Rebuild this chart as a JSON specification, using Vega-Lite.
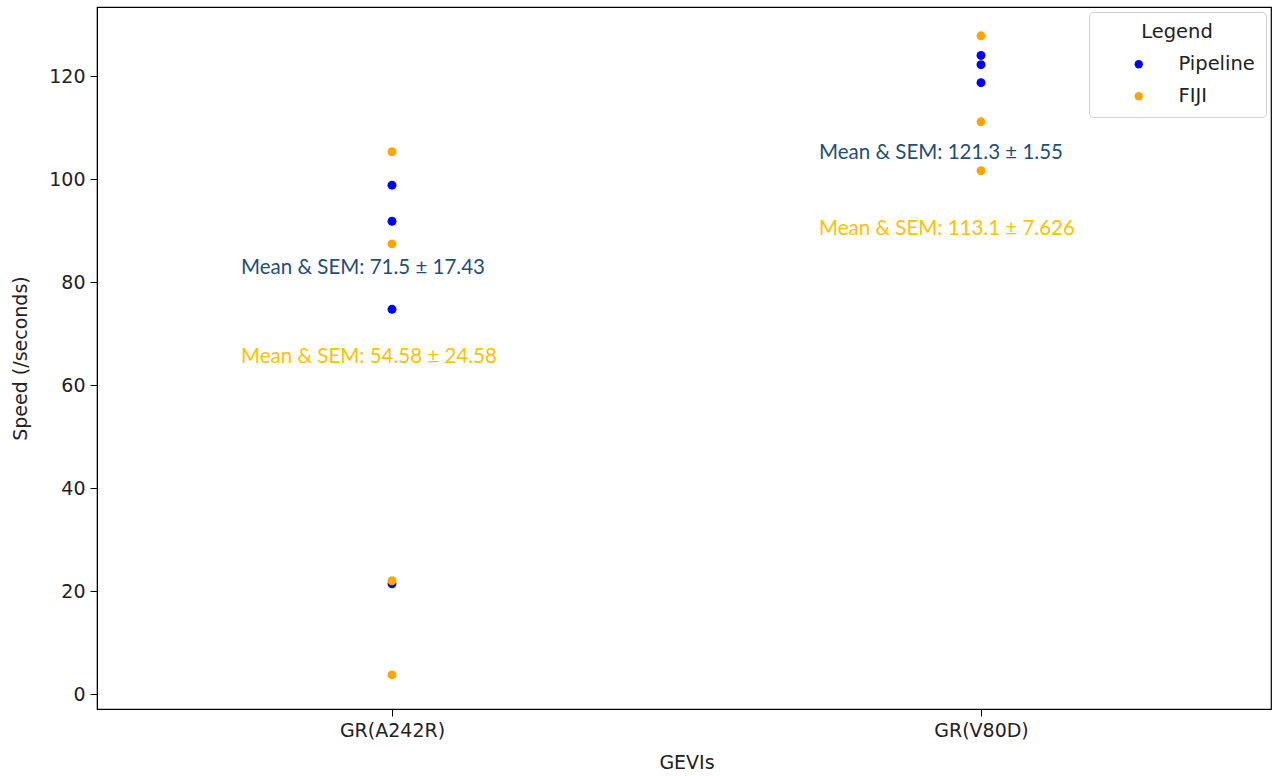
{
  "$schema": "https://vega.github.io/schema/vega-lite/v6.json",
  "width": 1174,
  "height": 702,
  "autosize": "none",
  "padding": {"left": 97, "top": 7, "right": 12, "bottom": 67},
  "background": "white",
  "config": {
    "view": {"stroke": "black", "strokeWidth": 1.2},
    "axis": {
      "labelFont": "DejaVu Sans", "labelFontSize": 19, "labelColor": "#222",
      "titleFont": "DejaVu Sans", "titleFontSize": 19, "titleColor": "#222", "titleFontWeight": "normal",
      "domainColor": "black", "tickColor": "black", "tickSize": 7, "grid": false
    }
  },
  "datasets": {
    "points": [
      {"gevi": "GR(A242R)", "method": "Pipeline", "speed": 98.8},
      {"gevi": "GR(A242R)", "method": "Pipeline", "speed": 91.8},
      {"gevi": "GR(A242R)", "method": "Pipeline", "speed": 74.7},
      {"gevi": "GR(A242R)", "method": "Pipeline", "speed": 21.4},
      {"gevi": "GR(V80D)", "method": "Pipeline", "speed": 124.0},
      {"gevi": "GR(V80D)", "method": "Pipeline", "speed": 122.2},
      {"gevi": "GR(V80D)", "method": "Pipeline", "speed": 118.7},
      {"gevi": "GR(A242R)", "method": "FIJI", "speed": 105.3},
      {"gevi": "GR(A242R)", "method": "FIJI", "speed": 87.4},
      {"gevi": "GR(A242R)", "method": "FIJI", "speed": 22.0},
      {"gevi": "GR(A242R)", "method": "FIJI", "speed": 3.7},
      {"gevi": "GR(V80D)", "method": "FIJI", "speed": 127.8},
      {"gevi": "GR(V80D)", "method": "FIJI", "speed": 111.1},
      {"gevi": "GR(V80D)", "method": "FIJI", "speed": 101.6}
    ],
    "notes": [
      {"gevi": "GR(A242R)", "method": "Pipeline", "labelSpeed": 82.8, "label": "Mean & SEM: 71.5 ± 17.43"},
      {"gevi": "GR(A242R)", "method": "FIJI", "labelSpeed": 65.5, "label": "Mean & SEM: 54.58 ± 24.58"},
      {"gevi": "GR(V80D)", "method": "Pipeline", "labelSpeed": 105.1, "label": "Mean & SEM: 121.3 ± 1.55"},
      {"gevi": "GR(V80D)", "method": "FIJI", "labelSpeed": 90.2, "label": "Mean & SEM: 113.1 ± 7.626"}
    ]
  },
  "layer": [
    {
      "data": {"name": "points"},
      "mark": {"type": "point", "filled": true, "opacity": 1, "size": 80},
      "encoding": {
        "x": {"field": "gevi", "type": "nominal", "title": "GEVIs",
              "scale": {"type": "point", "domain": ["GR(A242R)", "GR(V80D)"], "range": [295, 884], "padding": 0},
              "axis": {"labelAngle": 0, "domain": false, "labelPadding": 5, "titlePadding": 13}},
        "y": {"field": "speed", "type": "quantitative", "title": "Speed (/seconds)",
              "scale": {"domain": [-2.91, 133.4], "nice": false, "zero": false},
              "axis": {"values": [0, 20, 40, 60, 80, 100, 120], "labelPadding": 5, "titlePadding": 18}},
        "color": {"field": "method", "type": "nominal",
                  "scale": {"domain": ["Pipeline", "FIJI"], "range": ["#0000ff", "#ffa500"]},
                  "legend": {"title": "Legend", "orient": "top-right", "offset": 5,
                             "titleFont": "DejaVu Sans", "titleFontSize": 19.5, "titleFontWeight": "normal", "titleColor": "#222",
                             "titleAnchor": "middle", "titlePadding": 12,
                             "labelFont": "DejaVu Sans", "labelFontSize": 19.5, "labelColor": "#222",
                             "symbolType": "circle", "symbolSize": 70, "symbolOffset": 29, "labelOffset": 30,
                             "rowPadding": 11, "padding": 11,
                             "strokeColor": "#d0d0d0", "cornerRadius": 4, "fillColor": "white"}}
      }
    },
    {
      "data": {"name": "notes"},
      "transform": [{"filter": "datum.gevi === 'GR(A242R)'"}],
      "mark": {"type": "text", "align": "left", "baseline": "middle", "dx": -151, "font": "Lato", "fontSize": 20.5},
      "encoding": {
        "x": {"field": "gevi", "type": "nominal"},
        "y": {"field": "labelSpeed", "type": "quantitative"},
        "text": {"field": "label"},
        "color": {"condition": {"test": "datum.method === 'Pipeline'", "value": "#1f4e79"}, "value": "#ffc000"}
      }
    },
    {
      "data": {"name": "notes"},
      "transform": [{"filter": "datum.gevi === 'GR(V80D)'"}],
      "mark": {"type": "text", "align": "left", "baseline": "middle", "dx": -162, "font": "Lato", "fontSize": 20.5},
      "encoding": {
        "x": {"field": "gevi", "type": "nominal"},
        "y": {"field": "labelSpeed", "type": "quantitative"},
        "text": {"field": "label"},
        "color": {"condition": {"test": "datum.method === 'Pipeline'", "value": "#1f4e79"}, "value": "#ffc000"}
      }
    }
  ]
}
